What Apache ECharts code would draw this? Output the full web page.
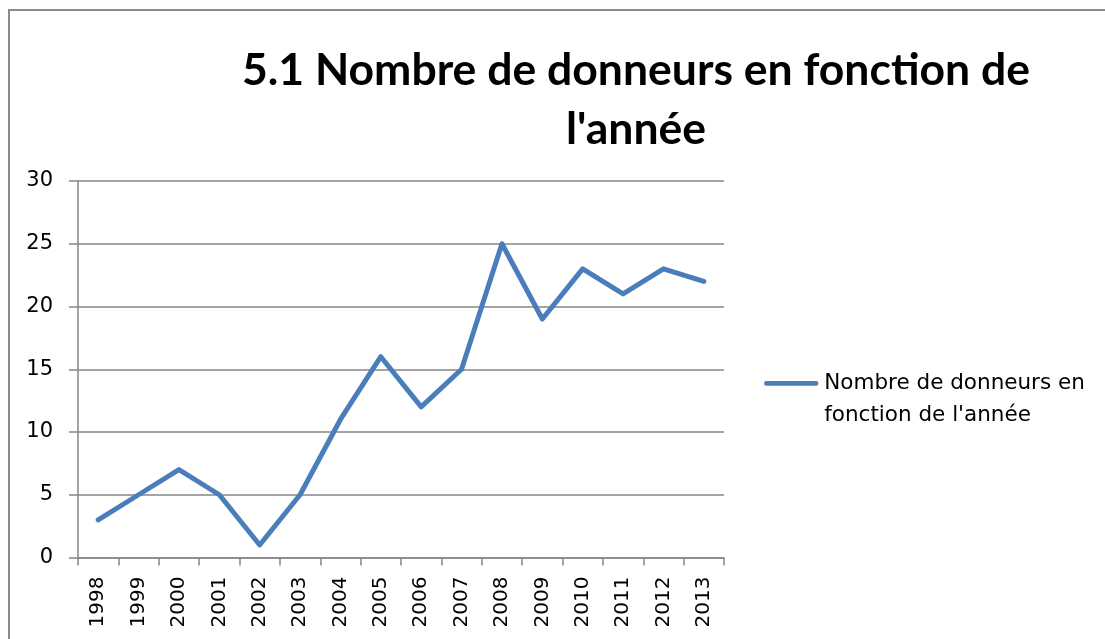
<!DOCTYPE html>
<html>
<head>
<meta charset="utf-8">
<script src="https://cdn.jsdelivr.net/npm/echarts@6/dist/echarts.min.js"></script>
<style>
html,body{margin:0;padding:0;background:#fff;}
#chart{width:1105px;height:639px;}
</style>
</head>
<body>
<div id="chart"></div>
<script>
var years = ['1998','1999','2000','2001','2002','2003','2004','2005','2006','2007','2008','2009','2010','2011','2012','2013'];
var donneurs = [3,5,7,5,1,5,11,16,12,15,25,19,23,21,23,22];
var yTicks = [0,5,10,15,20,25,30];
var seriesName = "Nombre de donneurs en fonction de l'année";
var legendLines = "Nombre de donneurs en\nfonction de l'année";
var titleText = "5.1 Nombre de donneurs en fonction de\nl'année";

var chart = echarts.init(document.getElementById('chart'));
var font = 'DejaVu Sans';
var titleFont = "Lato, sans-serif";
chart.setOption({
  animation: false,
  backgroundColor: '#fff',
  graphic: [{
    type: 'rect',
    shape: {x: 9, y: 10, width: 1300, height: 900},
    style: {fill: 'none', stroke: '#8a8a8a', lineWidth: 2},
    silent: true
  }],
  title: {
    text: titleText,
    left: 636,
    textAlign: 'center',
    top: 41,
    padding: 0,
    textStyle: {fontFamily: titleFont, fontWeight: 'bold', fontSize: 44.5, lineHeight: 59, color: '#000'}
  },
  legend: {
    left: 764,
    top: 367,
    padding: 0,
    itemWidth: 56,
    itemHeight: 36,
    itemGap: 0,
    icon: 'path://M2.5,0 L53.5,0 A2.5,2.5 0 0 1 53.5,5 L2.5,5 A2.5,2.5 0 0 1 2.5,0 Z M28,37 L28.01,37 L28,37.01 Z',
    formatter: function () { return legendLines; },
    textStyle: {fontFamily: font, fontSize: 21.5, color: '#000', lineHeight: 32},
    data: [{name: seriesName, itemStyle: {color: '#4A7EBB'}}]
  },
  grid: {left: 78, right: 381, top: 181, bottom: 81.5, containLabel: false},
  xAxis: {
    type: 'category',
    data: years,
    boundaryGap: true,
    axisLine: {lineStyle: {color: '#868686', width: 1.5}},
    axisTick: {show: true, length: 8, alignWithLabel: false, lineStyle: {color: '#868686', width: 1.5}},
    axisLabel: {rotate: 90, margin: 19, fontFamily: font, fontSize: 20, color: '#000', interval: 0},
    splitLine: {show: false}
  },
  yAxis: {
    type: 'value',
    min: yTicks[0],
    max: yTicks[yTicks.length - 1],
    interval: 5,
    axisLine: {show: true, lineStyle: {color: '#868686', width: 1.5}},
    axisTick: {show: true, length: 9, lineStyle: {color: '#868686', width: 1.5}},
    axisLabel: {margin: 25, fontFamily: font, fontSize: 21, color: '#000'},
    splitLine: {show: true, lineStyle: {color: '#868686', width: 1.5}}
  },
  series: [{
    name: seriesName,
    type: 'line',
    data: donneurs,
    symbol: 'none',
    lineStyle: {color: '#4A7EBB', width: 5, cap: 'round', join: 'round'},
    itemStyle: {color: '#4A7EBB'}
  }]
});
</script>
</body>
</html>
